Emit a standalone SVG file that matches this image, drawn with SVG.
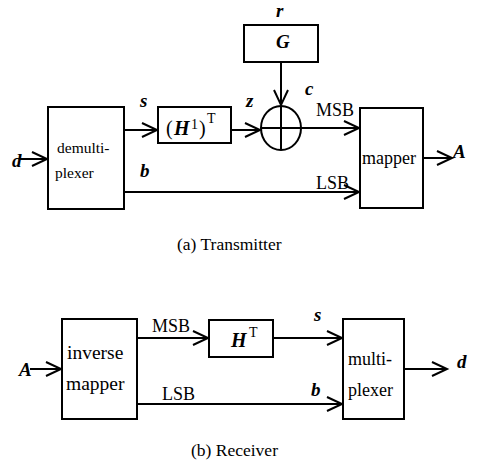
<svg xmlns="http://www.w3.org/2000/svg" width="479" height="470" viewBox="0 0 479 470">
<defs>
<marker id="arr" markerUnits="userSpaceOnUse" markerWidth="18" markerHeight="18" refX="16" refY="8" orient="auto" overflow="visible">
<path d="M1,1 L16,8 L1,15" fill="none" stroke="#000" stroke-width="2"/>
</marker>
</defs>
<style>
.box{fill:#fff;stroke:#000;stroke-width:2}
.ln{fill:none;stroke:#000;stroke-width:2}
.a{marker-end:url(#arr)}
text{font-family:"Liberation Serif","Times New Roman",serif;fill:#000}
.v{font-weight:bold;font-style:italic;font-size:19px}
.t{font-size:18px}
.sup{font-size:14px}
</style>
<rect width="479" height="470" fill="#fff"/>
<g id="connectors">
<line class="ln a" x1="20" y1="159" x2="47" y2="159"/>
<line class="ln a" x1="124" y1="130" x2="157" y2="130"/>
<line class="ln a" x1="231" y1="130" x2="260" y2="130"/>
<line class="ln a" x1="281" y1="62" x2="281" y2="105"/>
<line class="ln a" x1="301" y1="128" x2="359" y2="128"/>
<line class="ln a" x1="124" y1="192" x2="359" y2="192"/>
<line class="ln a" x1="423" y1="158" x2="452" y2="158"/>
<line class="ln a" x1="30" y1="369" x2="61" y2="369"/>
<line class="ln a" x1="137" y1="338" x2="208" y2="338"/>
<line class="ln a" x1="273" y1="338" x2="342" y2="338"/>
<line class="ln a" x1="137" y1="404" x2="342" y2="404"/>
<line class="ln a" x1="404" y1="369" x2="447" y2="369"/>
</g>
<g id="demux">
<rect class="box" x="48" y="107" width="76" height="102"/>
<text x="57" y="153" style="font-size:15.5px">demulti-</text>
<text x="55" y="178" style="font-size:15.5px">plexer</text>
</g>
<g id="hinvT">
<rect class="box" x="158" y="107" width="73" height="36"/>
<text x="166" y="135" style="font-size:20px">(<tspan x="174" style="font-weight:bold;font-style:italic">H</tspan><tspan x="191" y="129" class="sup">1</tspan><tspan x="199" y="135">)</tspan><tspan x="207" y="123" class="sup">T</tspan></text>
</g>
<g id="G">
<rect class="box" x="244" y="25" width="74" height="37"/>
<text class="v" x="276" y="48">G</text>
</g>
<g id="adder">
<ellipse class="ln" cx="281" cy="128" rx="20" ry="22"/>
<line class="ln" x1="261" y1="128" x2="301" y2="128"/>
<line class="ln" x1="281" y1="106" x2="281" y2="150"/>
</g>
<g id="mapper">
<rect class="box" x="360" y="108" width="63" height="100"/>
<text x="362" y="164" style="font-size:18px">mapper</text>
</g>
<g id="invmapper">
<rect class="box" x="62" y="319" width="75" height="100"/>
<text x="67" y="359" style="font-size:19.5px">inverse</text>
<text x="66" y="390" style="font-size:19.5px">mapper</text>
</g>
<g id="hT">
<rect class="box" x="209" y="320" width="64" height="37"/>
<text x="231" y="347" style="font-weight:bold;font-style:italic;font-size:20px">H</text>
<text x="249" y="337" class="sup">T</text>
</g>
<g id="mux">
<rect class="box" x="343" y="319" width="61" height="100"/>
<text x="348" y="365" style="font-size:18px">multi-</text>
<text x="348" y="396" style="font-size:18px">plexer</text>
</g>
<g id="labels">
<text class="v" x="12" y="167">d</text>
<text class="v" x="140" y="107">s</text>
<text class="v" x="140" y="177">b</text>
<text class="v" x="276" y="17">r</text>
<text class="v" x="246" y="107">z</text>
<text class="v" x="305" y="95">c</text>
<text class="t" x="316" y="116">MSB</text>
<text class="t" x="316" y="189">LSB</text>
<text class="v" x="453" y="158">A</text>
<text x="177" y="250" style="font-size:17.5px">(a) Transmitter</text>
<text class="v" x="19" y="376">A</text>
<text class="t" x="152" y="332">MSB</text>
<text class="t" x="162" y="400">LSB</text>
<text class="v" x="314" y="321">s</text>
<text class="v" x="311" y="396">b</text>
<text class="v" x="457" y="368">d</text>
<text x="191" y="456" style="font-size:17.5px">(b) Receiver</text>
</g>
</svg>
